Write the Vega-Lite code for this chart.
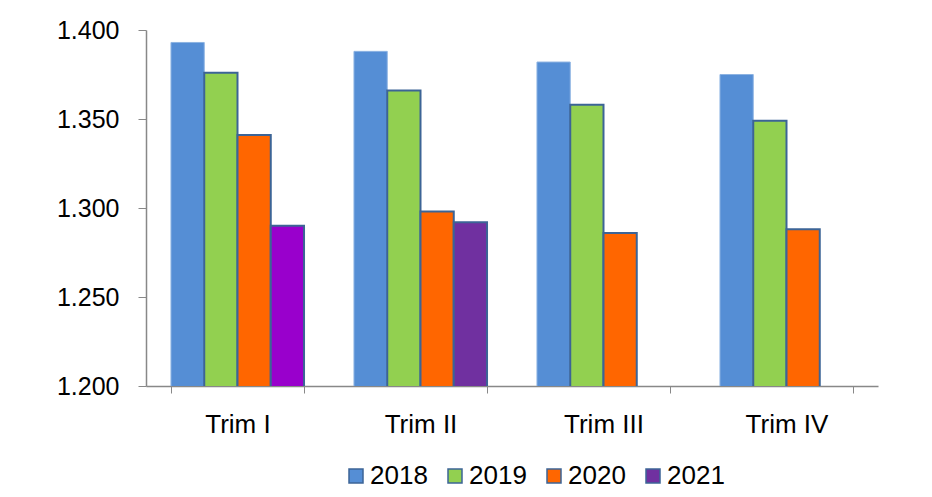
{
  "$schema": "https://vega.github.io/schema/vega-lite/v6.json",
  "width": 732,
  "height": 356,
  "autosize": {"type": "none"},
  "padding": {"left": 146, "top": 30, "right": 54, "bottom": 111},
  "background": "white",
  "config": {
    "view": {"stroke": null},
    "font": "Liberation Sans",
    "axis": {"labelFont": "Liberation Sans", "labelFontSize": 26, "labelColor": "#000000", "domainColor": "#888888", "tickColor": "#888888", "grid": false, "title": null},
    "legend": {"labelFont": "Liberation Sans", "labelFontSize": 26, "labelColor": "#000000"}
  },
  "data": {
    "values": [
      {"quarter": "Trim I", "year": "2018", "value": 1393},
      {"quarter": "Trim I", "year": "2019", "value": 1376},
      {"quarter": "Trim I", "year": "2020", "value": 1341},
      {"quarter": "Trim I", "year": "2021", "value": 1290},
      {"quarter": "Trim II", "year": "2018", "value": 1388},
      {"quarter": "Trim II", "year": "2019", "value": 1366},
      {"quarter": "Trim II", "year": "2020", "value": 1298},
      {"quarter": "Trim II", "year": "2021", "value": 1292},
      {"quarter": "Trim III", "year": "2018", "value": 1382},
      {"quarter": "Trim III", "year": "2019", "value": 1358},
      {"quarter": "Trim III", "year": "2020", "value": 1286},
      {"quarter": "Trim IV", "year": "2018", "value": 1375},
      {"quarter": "Trim IV", "year": "2019", "value": 1349},
      {"quarter": "Trim IV", "year": "2020", "value": 1288}
    ]
  },
  "mark": {"type": "bar", "clip": true},
  "encoding": {
    "x": {
      "field": "quarter",
      "type": "nominal",
      "sort": ["Trim I", "Trim II", "Trim III", "Trim IV"],
      "scale": {"paddingInner": 0.273, "paddingOuter": 0.1365},
      "axis": {"labelAngle": 0, "tickBand": "extent", "tickSize": 7, "labelPadding": 18, "domainWidth": 1.5}
    },
    "xOffset": {"field": "year", "type": "nominal", "sort": ["2018", "2019", "2020", "2021"], "scale": {"domain": ["2018", "2019", "2020", "2021"], "paddingInner": 0, "paddingOuter": 0}},
    "y": {
      "field": "value",
      "type": "quantitative",
      "scale": {"domain": [1200, 1400], "zero": false, "nice": false},
      "axis": {"values": [1200, 1250, 1300, 1350, 1400], "labelExpr": "replace(format(datum.value, ',.0f'), ',', '.')", "labelFontSize": 25, "tickSize": 8, "labelPadding": 19, "domainWidth": 1.5}
    },
    "color": {
      "condition": {"test": "datum.quarter == 'Trim I' && datum.year == '2021'", "value": "#9900CC"},
      "field": "year",
      "type": "nominal",
      "scale": {"domain": ["2018", "2019", "2020", "2021"], "range": ["#558ED5", "#92D050", "#FF6600", "#7030A0"]},
      "legend": {
        "title": null,
        "orient": "none",
        "direction": "horizontal",
        "legendX": 197,
        "legendY": 433,
        "symbolType": "square",
        "symbolSize": 196,
        "symbolOpacity": 1,
        "labelOffset": 1,
        "columnPadding": 14,
        "encode": {"symbols": {"update": {"stroke": {"signal": "datum.value == '2018' ? '#8DB3E2' : '#3C6496'"}, "strokeWidth": {"value": 1.5}}}}
      }
    },
    "stroke": {"condition": {"test": "datum.year == '2018'", "value": "#8DB3E2"}, "value": "#3C6496"},
    "strokeWidth": {"condition": {"test": "datum.year == '2018'", "value": 1}, "value": 2}
  }
}
